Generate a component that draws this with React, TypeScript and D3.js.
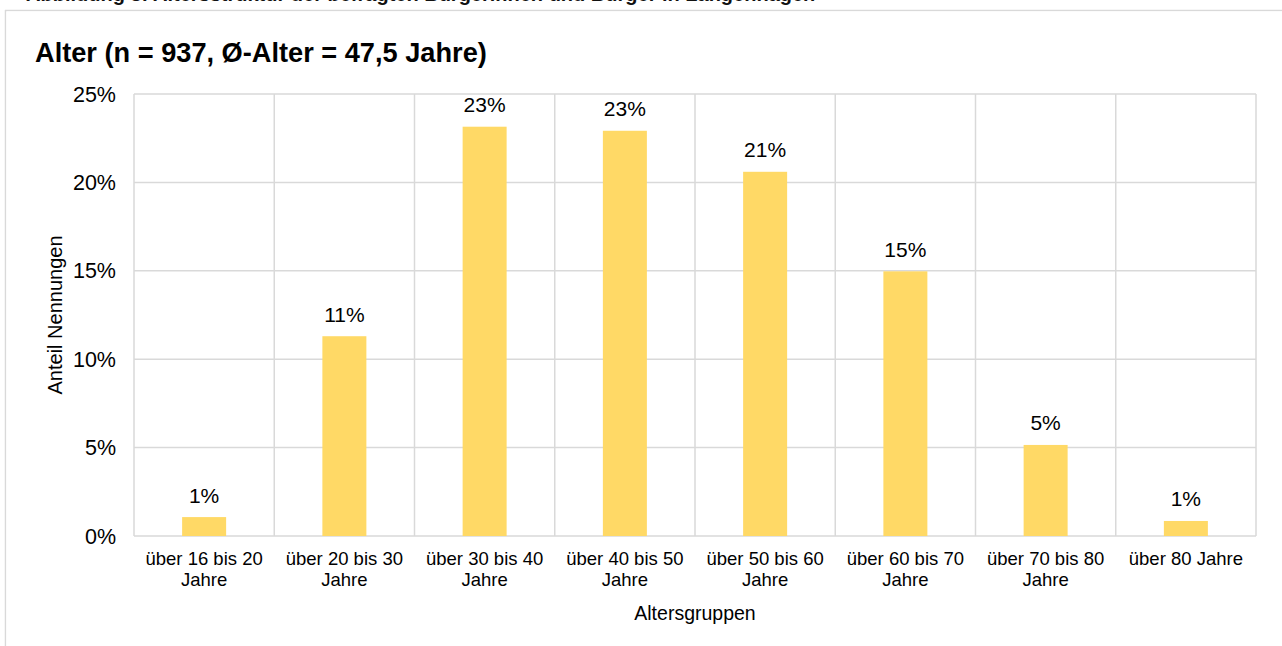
import React from "react";
import * as d3 from "d3";

const categories: string[][] = [
  ["über 16 bis 20", "Jahre"],
  ["über 20 bis 30", "Jahre"],
  ["über 30 bis 40", "Jahre"],
  ["über 40 bis 50", "Jahre"],
  ["über 50 bis 60", "Jahre"],
  ["über 60 bis 70", "Jahre"],
  ["über 70 bis 80", "Jahre"],
  ["über 80 Jahre"],
];
const values: number[] = [1.07, 11.3, 23.15, 22.92, 20.6, 14.97, 5.15, 0.85];
const valueLabels: string[] = ["1%", "11%", "23%", "23%", "21%", "15%", "5%", "1%"];
const yTicks: number[] = [0, 5, 10, 15, 20, 25];

const W = 1282;
const H = 646;
const plot = { left: 134, right: 1256, top: 94, bottom: 536 };
const FONT = "'Liberation Sans', Arial, sans-serif";

export default function App() {
  const x = d3
    .scaleBand<number>()
    .domain(d3.range(categories.length))
    .range([plot.left, plot.right])
    .paddingInner(0)
    .paddingOuter(0);
  const y = d3.scaleLinear().domain([0, 25]).range([plot.bottom, plot.top]);
  const bw = x.bandwidth();
  const barW = 44;
  const grid = "#d9d9d9";

  return (
    <div style={{ position: "absolute", left: 0, top: 0, width: W, height: H, background: "#fff" }}>
      <svg width={W} height={H} style={{ display: "block", fontFamily: FONT }}>
        <rect x={0} y={0} width={W} height={H} fill="#fff" />
        {/* figure caption above the frame (clipped at the top edge as in the source) */}
        <text x={26} y={1} fontSize={20} fontWeight="bold" fill="#111">
          Abbildung 3: Altersstruktur der befragten Bürgerinnen und Bürger in Langenhagen
        </text>
        {/* frame */}
        <line x1={5.5} x2={5.5} y1={10} y2={H} stroke={grid} strokeWidth={1.5} />
        <line x1={5} x2={W} y1={10.5} y2={10.5} stroke={grid} strokeWidth={1.5} />
        <rect x={6.5} y={11.5} width={W} height={H} fill="#fff" />

        <text x={35} y={62} fontSize={27.2} fontWeight="bold" fill="#000">
          Alter (n = 937, Ø-Alter = 47,5 Jahre)
        </text>

        {/* horizontal gridlines */}
        {yTicks.map((t) => (
          <line
            key={"h" + t}
            x1={plot.left}
            x2={plot.right}
            y1={y(t)}
            y2={y(t)}
            stroke={grid}
            strokeWidth={1.5}
          />
        ))}
        {/* vertical gridlines */}
        {d3.range(categories.length + 1).map((i) => {
          const xx = plot.left + i * bw;
          return (
            <line
              key={"v" + i}
              x1={xx}
              x2={xx}
              y1={plot.top}
              y2={plot.bottom}
              stroke={grid}
              strokeWidth={1.5}
            />
          );
        })}

        {/* y tick labels */}
        {yTicks.map((t) => (
          <text
            key={"yt" + t}
            x={116}
            y={y(t) + 7.5}
            fontSize={21.5}
            textAnchor="end"
            fill="#000"
          >
            {t + "%"}
          </text>
        ))}

        {/* bars */}
        {values.map((v, i) => {
          const cx = (x(i) as number) + bw / 2;
          return (
            <g key={"b" + i}>
              <rect
                x={cx - barW / 2}
                y={y(v)}
                width={barW}
                height={plot.bottom - y(v)}
                fill="#FFD966"
              />
              <text x={cx} y={y(v) - 14.5} fontSize={21} textAnchor="middle" fill="#000">
                {valueLabels[i]}
              </text>
            </g>
          );
        })}

        {/* category labels */}
        {categories.map((lines, i) => {
          const cx = (x(i) as number) + bw / 2;
          return (
            <text key={"c" + i} x={cx} y={565} fontSize={18.5} textAnchor="middle" fill="#000">
              {lines.map((l, j) => (
                <tspan key={j} x={cx} dy={j === 0 ? 0 : 21}>
                  {l}
                </tspan>
              ))}
            </text>
          );
        })}

        <text
          x={(plot.left + plot.right) / 2}
          y={620}
          fontSize={19.5}
          textAnchor="middle"
          fill="#000"
        >
          Altersgruppen
        </text>
        <text
          transform={`translate(62, ${(plot.top + plot.bottom) / 2}) rotate(-90)`}
          fontSize={20}
          textAnchor="middle"
          fill="#000"
        >
          Anteil Nennungen
        </text>
      </svg>
    </div>
  );
}
